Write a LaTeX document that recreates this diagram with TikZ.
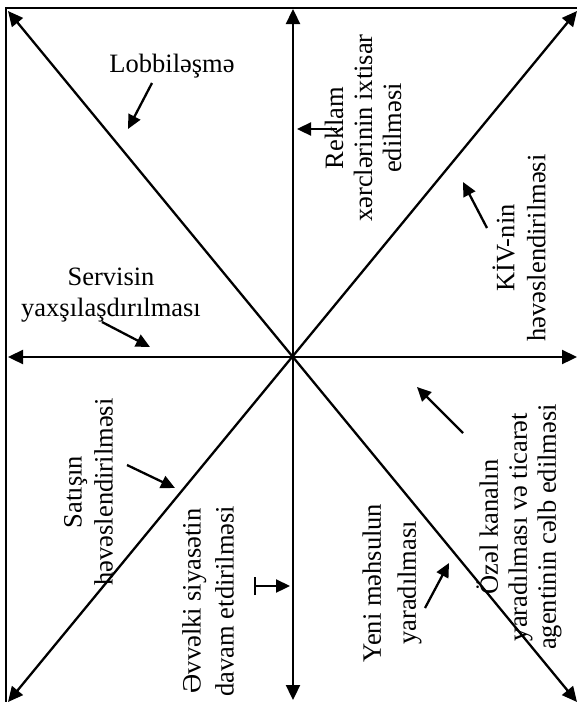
\documentclass[tikz,border=0pt]{standalone}
\usepackage{fontspec}
\setmainfont{Liberation Serif}
\usetikzlibrary{arrows.meta}
\begin{document}
\begin{tikzpicture}[x=1pt,y=-1pt,
  axis/.style={line width=2.3pt,
    {Triangle[length=15pt,width=14pt]}-{Triangle[length=15pt,width=14pt]}},
  pointer/.style={line width=2.3pt,-{Triangle[length=14pt,width=13pt]}},
  lbl/.style={font=\fontsize{26.5}{31}\selectfont,align=center,inner sep=0pt},
  vlbl/.style={lbl,rotate=90}]
\useasboundingbox (0,0) rectangle (577,702);
\clip (0,0) rectangle (577,702);

% frame
\draw[line width=1.8pt] (6,8) rectangle (620,740);

% end points of the four axes
\coordinate (top) at (293,9);
\coordinate (bottom) at (293,700);
\coordinate (left) at (8,357);
\coordinate (right) at (577,357);
\coordinate (nw) at (8,11);
\coordinate (se) at (577,702);
\coordinate (ne) at (577,11);
\coordinate (sw) at (8,702);

% labels
\node[lbl] (lob) at (172,66) {Lobbiləşmə};
\node[vlbl,font=\fontsize{26.5}{29}\selectfont] (rek) at (363,128) {Reklam\\xərclərinin ixtisar\\edilməsi};
\node[vlbl] (kiv) at (519,248) {KİV-nin\\həvəslendirilməsi};
\node[lbl] (srv) at (111,295) {Servisin\\yaxşılaşdırılması};
\node[vlbl] (sat) at (88.5,492) {Satışın\\həvəslendirilməsi};
\node[vlbl,font=\fontsize{26.5}{33}\selectfont] (evv) at (208,601) {Əvvəlki siyasətin\\davam etdirilməsi};
\node[vlbl,font=\fontsize{26.5}{35}\selectfont] (yen) at (392,583) {Yeni məhsulun\\yaradılması};
\node[vlbl,font=\fontsize{26.5}{29}\selectfont] (oze) at (519,527) {Özəl kanalın\\yaradılması və ticarət\\agentinin cəlb edilməsi};

% axes
\draw[axis] (top) -- (bottom);
\draw[axis] (left) -- (right);
\draw[axis] (nw) -- (se);
\draw[axis] (ne) -- (sw);

% pointer arrows
\coordinate (p1a) at (152,83);  \coordinate (p1b) at (128,129);
\coordinate (p2a) at (337,129); \coordinate (p2b) at (297,129);
\coordinate (p3a) at (487,228); \coordinate (p3b) at (463,182);
\coordinate (p4a) at (102,322); \coordinate (p4b) at (150,347);
\coordinate (p5a) at (127,465); \coordinate (p5b) at (175,488);
\coordinate (p6a) at (254,586); \coordinate (p6b) at (290,586);
\coordinate (p7a) at (425,608); \coordinate (p7b) at (449,563);
\coordinate (p8a) at (463,433); \coordinate (p8b) at (417,387);
\draw[pointer] (p1a) -- (p1b);
\draw[pointer] (p2a) -- (p2b);
\draw[pointer] (p3a) -- (p3b);
\draw[pointer] (p4a) -- (p4b);
\draw[pointer] (p5a) -- (p5b);
\draw[pointer,{Bar[width=18pt]}-{Triangle[length=14pt,width=13pt]}] (p6a) -- (p6b);
\draw[pointer] (p7a) -- (p7b);
\draw[pointer] (p8a) -- (p8b);
\end{tikzpicture}
\end{document}
